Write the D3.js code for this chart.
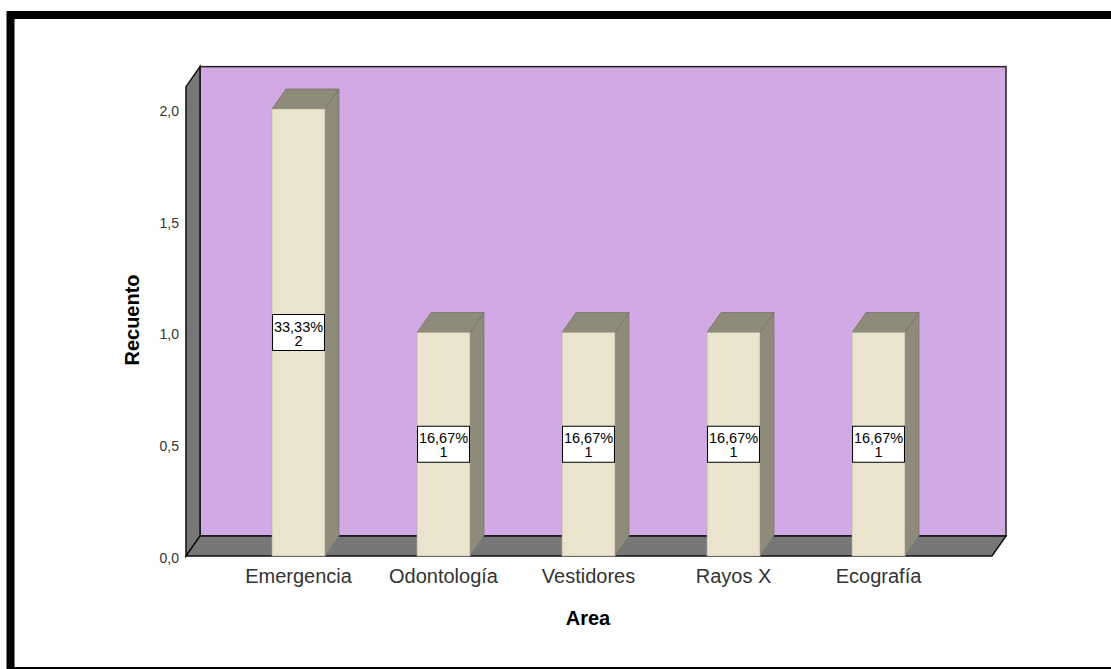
<!DOCTYPE html>
<html>
<head>
<meta charset="utf-8">
<script src="https://cdn.jsdelivr.net/npm/d3@7"></script>
<style>
body { margin: 0; background: #fff; }
svg { display: block; font-family: Arial, "Liberation Sans", sans-serif; }
</style>
</head>
<body>
<div id="chart-area"></div>
<script>
// data
var areas = ["Emergencia", "Odontología", "Vestidores", "Rayos X", "Ecografía"];
var counts = [2, 1, 1, 1, 1];
var percents = ["33,33%", "16,67%", "16,67%", "16,67%", "16,67%"];
var yTicks = [0, 0.5, 1.0, 1.5, 2.0];

var width = 1111, height = 669;
var depthX = 14, depthY = 20;
var plotLeft = 186, plotRight = 992, floorY = 556;

var svg = d3.select("#chart-area").append("svg")
	.attr("width", width)
	.attr("height", height);

// outer frame
svg.append("rect")
	.attr("x", 10.5).attr("y", 15)
	.attr("width", 1200).attr("height", 656)
	.attr("fill", "#fff")
	.attr("stroke", "#000")
	.attr("stroke-width", 8);

var y = d3.scaleLinear().domain([0, 2.1]).range([floorY, floorY - 2.1 * 223.5]);
var x = d3.scaleBand().domain(areas).range([226, 951])
	.paddingInner(0.635).paddingOuter(0.3175);

var topY = y(2.1);

// back wall
svg.append("rect")
	.attr("x", plotLeft + depthX).attr("y", topY - depthY)
	.attr("width", plotRight - plotLeft).attr("height", floorY - topY)
	.attr("fill", "#d1a9e4")
	.attr("stroke", "#222").attr("stroke-width", 1.5);

// left wall
svg.append("polygon")
	.attr("points", [[plotLeft, floorY], [plotLeft + depthX, floorY - depthY], [plotLeft + depthX, topY - depthY], [plotLeft, topY]].join(" "))
	.attr("fill", "#777")
	.attr("stroke", "#111").attr("stroke-width", 1.5);

// floor
svg.append("polygon")
	.attr("points", [[plotLeft, floorY], [plotRight, floorY], [plotRight + depthX, floorY - depthY], [plotLeft + depthX, floorY - depthY]].join(" "))
	.attr("fill", "#777")
	.attr("stroke", "#111").attr("stroke-width", 1.5);

var data = areas.map(function(a, i) { return {area: a, count: counts[i], pct: percents[i]}; });

var bars = svg.selectAll(".bar").data(data).enter().append("g").attr("class", "bar");
var bw = x.bandwidth();

// side
bars.append("polygon")
	.attr("points", function(d) {
		var x1 = x(d.area) + bw, yv = y(d.count);
		return [[x1, yv], [x1 + depthX, yv - depthY], [x1 + depthX, floorY - depthY], [x1, floorY]].join(" ");
	})
	.attr("fill", "#8e8b7b").attr("stroke", "#77746a").attr("stroke-width", 0.8);

// top
bars.append("polygon")
	.attr("points", function(d) {
		var x0 = x(d.area), yv = y(d.count);
		return [[x0, yv], [x0 + depthX, yv - depthY], [x0 + bw + depthX, yv - depthY], [x0 + bw, yv]].join(" ");
	})
	.attr("fill", "#8e8b7b").attr("stroke", "#77746a").attr("stroke-width", 0.8);

// front
bars.append("rect")
	.attr("x", function(d) { return x(d.area); })
	.attr("y", function(d) { return y(d.count); })
	.attr("width", bw)
	.attr("height", function(d) { return floorY - y(d.count); })
	.attr("fill", "#eae4cf").attr("stroke", "#b5b09c").attr("stroke-width", 0.6);

// value labels
bars.append("rect")
	.attr("x", function(d) { return x(d.area) + 0.5; })
	.attr("y", function(d) { return y(d.count / 2) - 18; })
	.attr("width", bw - 1).attr("height", 36)
	.attr("fill", "#fff").attr("stroke", "#000").attr("stroke-width", 1);

bars.append("text")
	.attr("x", function(d) { return x(d.area) + bw / 2; })
	.attr("y", function(d) { return y(d.count / 2) - 1; })
	.attr("text-anchor", "middle")
	.attr("font-size", "14.5px")
	.attr("fill", "#000")
	.text(function(d) { return d.pct; });

bars.append("text")
	.attr("x", function(d) { return x(d.area) + bw / 2; })
	.attr("y", function(d) { return y(d.count / 2) + 13; })
	.attr("text-anchor", "middle")
	.attr("font-size", "14.5px")
	.attr("fill", "#000")
	.text(function(d) { return d.count; });

// axes
var yAxis = d3.axisLeft(y).tickValues(yTicks).tickSize(0).tickPadding(7)
	.tickFormat(function(d) { return d3.format(".1f")(d).replace(".", ","); });
var gy = svg.append("g").attr("transform", "translate(" + plotLeft + ",2)").call(yAxis);
gy.select(".domain").remove();
gy.selectAll("text").attr("font-size", "14px").attr("fill", "#333").attr("font-family", "Arial, 'Liberation Sans', sans-serif");

var xAxis = d3.axisBottom(x).tickSize(0).tickPadding(13);
var gx = svg.append("g").attr("transform", "translate(0," + floorY + ")").call(xAxis);
gx.select(".domain").remove();
gx.selectAll("text").attr("font-size", "20px").attr("fill", "#333").attr("font-family", "Arial, 'Liberation Sans', sans-serif");

svg.append("text")
	.attr("x", 588).attr("y", 625)
	.attr("text-anchor", "middle")
	.attr("font-size", "20px").attr("font-weight", "bold")
	.text("Area");

svg.append("text")
	.attr("transform", "translate(139,320) rotate(-90)")
	.attr("text-anchor", "middle")
	.attr("font-size", "20px").attr("font-weight", "bold")
	.text("Recuento");
</script>
</body>
</html>
